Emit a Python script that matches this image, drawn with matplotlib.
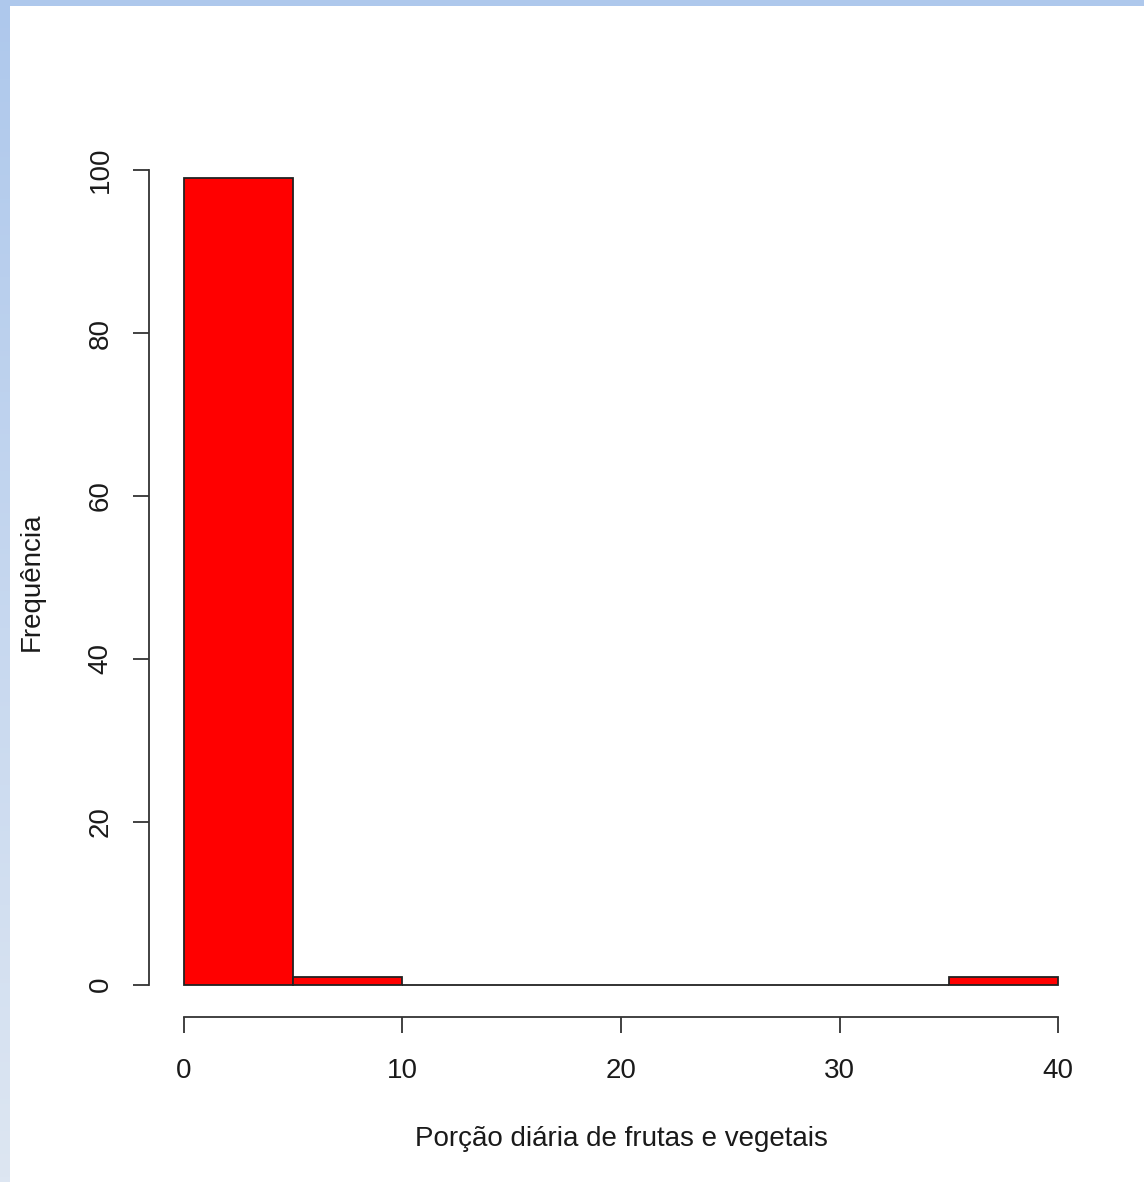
import numpy as np
import matplotlib
matplotlib.use("Agg")
import matplotlib.pyplot as plt
from matplotlib.colors import LinearSegmentedColormap

plt.rcParams['font.family'] = ['Liberation Sans', 'DejaVu Sans']

# Histogram data (bin edges and counts)
bin_edges = [0, 5, 10, 15, 20, 25, 30, 35, 40]
counts = [99, 1, 0, 0, 0, 0, 0, 1]
x_ticks = [0, 10, 20, 30, 40]
y_ticks = [0, 20, 40, 60, 80, 100]
x_label = "Porção diária de frutas e vegetais"
y_label = "Frequência"

W, H = 1144, 1182
fig = plt.figure(figsize=(W / 100, H / 100), dpi=100)
fig.patch.set_facecolor('white')

# blue frame: top strip and left gradient strip
top = fig.add_axes([0, 1 - 6 / H, 1, 6 / H])
top.set_axis_off()
top.add_patch(plt.Rectangle((0, 0), 1, 1, color='#aec8ec', transform=top.transAxes))
left = fig.add_axes([0, 0, 10 / W, 1])
left.set_axis_off()
grad = np.linspace(0, 1, 256).reshape(-1, 1)
cmap = LinearSegmentedColormap.from_list('g', ['#dde6f2', '#aec8ec'])
left.imshow(grad, aspect='auto', cmap=cmap, origin='lower', extent=[0, 1, 0, 1])

ax = fig.add_axes([149 / W, 1 - 1017 / H, (1093 - 149) / W, (1017 - 146) / H])
widths = np.diff(bin_edges)
ax.bar(bin_edges[:-1], counts, width=widths, align='edge',
       color='#ff0000', edgecolor='#222222', linewidth=1.3)

ax.set_xlim(-1.6, 41.6)
ax.set_ylim(-3.96, 102.96)
for s in ['top', 'right']:
    ax.spines[s].set_visible(False)
ax.spines['left'].set_bounds(0, 100)
ax.spines['bottom'].set_bounds(0, 40)
for s in ['left', 'bottom']:
    ax.spines[s].set_color('#333333')
    ax.spines[s].set_linewidth(1.3)
ax.set_xticks(x_ticks)
ax.set_yticks(y_ticks)
ax.tick_params(direction='out', length=11.5, width=1.3, color='#333333',
               labelsize=20, labelcolor='#1a1a1a')
ax.tick_params(axis='x', pad=18)
ax.tick_params(axis='y', labelrotation=90, pad=14)
for lbl in ax.get_yticklabels():
    lbl.set_va('center')
ax.set_xlabel(x_label, fontsize=20, color='#1a1a1a', labelpad=30)
ax.set_ylabel(y_label, fontsize=20, color='#1a1a1a', labelpad=31)
ax.set_facecolor('white')

fig.savefig('out.png', dpi=100)
